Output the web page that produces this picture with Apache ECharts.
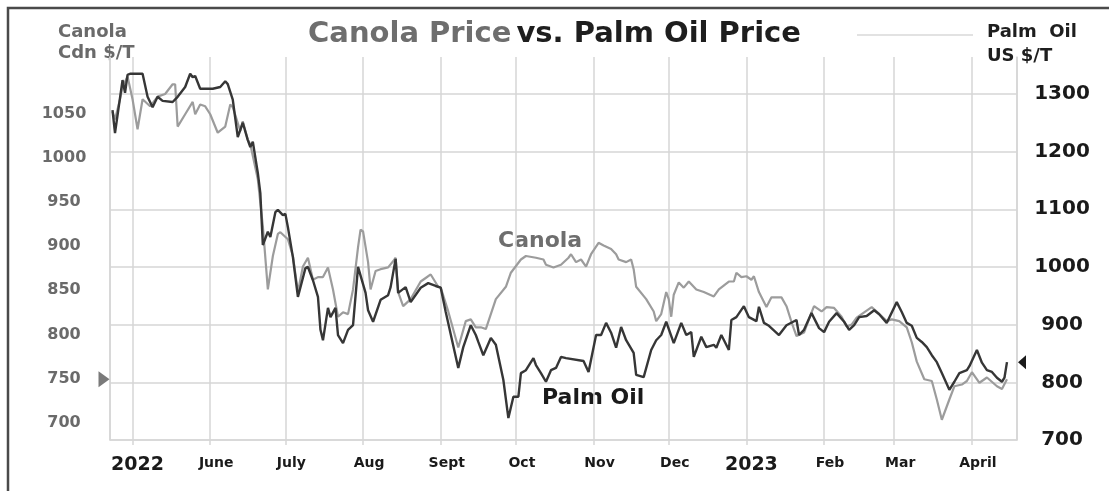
<!DOCTYPE html>
<html>
<head>
<meta charset="utf-8">
<title>Canola Price vs. Palm Oil Price</title>
<script src="https://cdn.jsdelivr.net/npm/echarts@6/dist/echarts.min.js"></script>
<style>
  html, body { margin: 0; padding: 0; background: #fff; }
  #chart { width: 1109px; height: 491px; }
</style>
</head>
<body>
<div id="chart"></div>
<script>
// days are counted from 22 Apr 2022
const startDate = new Date(2022, 3, 22);
const endDate = new Date(2023, 3, 19);
const DAY = 86400000;

// canola, Cdn $/T (left axis)
const canolaDays = [
  1, 2, 4, 5, 6, 7, 9, 11, 13, 16,
  19, 22, 25, 26, 27, 30, 33, 34, 36, 38,
  40, 43, 46, 48, 49, 52, 53, 55, 56, 59,
  61, 63, 65, 67, 68, 71, 73, 75, 77, 79,
  81, 83, 85, 87, 89, 91, 93, 95, 97, 99,
  100, 101, 103, 104, 106, 108, 111, 113, 114, 115,
  117, 120, 124, 126, 128, 131, 132, 135, 139, 142,
  144, 146, 148, 150, 154, 158, 160, 164, 166, 170,
  173, 174, 177, 180, 183, 184, 186, 188, 190, 192,
  195, 197, 200, 202, 203, 206, 208, 209, 210, 214,
  217, 218, 220, 222, 223, 224, 225, 227, 229, 231,
  234, 237, 241, 243, 247, 249, 250, 252, 254, 256,
  257, 259, 262, 264, 268, 270, 272, 274, 277, 280,
  281, 284, 286, 289, 292, 294, 296, 298, 300, 304,
  306, 310, 312, 315, 318, 320, 322, 325, 328, 330,
  332, 335, 337, 340, 342, 344, 347, 350, 354, 356,
  358
];
const canolaPrices = [
  1053, 1044, 1067, 1082, 1087, 1093, 1067, 1033, 1067, 1059,
  1070, 1073, 1084, 1084, 1036, 1050, 1064, 1050, 1061, 1059,
  1050, 1029, 1036, 1061, 1058, 1031, 1042, 1021, 1016, 976,
  923, 851, 889, 914, 916, 908, 889, 848, 877, 887,
  862, 865, 865, 876, 851, 820, 825, 823, 851, 899,
  919, 917, 882, 851, 872, 874, 876, 883, 887, 848,
  832, 840, 860, 864, 868, 854, 853, 826, 785, 815,
  817, 808, 808, 806, 840, 854, 870, 885, 889, 887,
  885, 879, 876, 879, 887, 891, 882, 885, 877, 891,
  904, 901, 897, 891, 885, 882, 885, 874, 854, 840,
  826, 815, 823, 848, 840, 820, 845, 859, 853, 860,
  851, 848, 843, 851, 860, 860, 870, 865, 866, 862,
  866, 848, 831, 842, 842, 832, 814, 798, 802, 825,
  832, 826, 831, 830, 820, 809, 811, 819, 823, 831,
  826, 815, 817, 815, 808, 791, 769, 749, 747, 726,
  703, 726, 741, 743, 747, 757, 745, 751, 741, 738,
  749
];

// palm oil, US $/T (right axis)
const palmDays = [
  1, 2, 5, 6, 7, 8, 13, 15, 17, 19,
  21, 25, 27, 30, 32, 33, 34, 36, 41, 44,
  46, 47, 49, 51, 53, 55, 56, 57, 59, 60,
  61, 63, 64, 66, 67, 69, 70, 71, 73, 75,
  78, 79, 81, 83, 84, 85, 87, 88, 90, 91,
  93, 95, 97, 99, 102, 103, 105, 108, 111, 112,
  114, 115, 118, 120, 124, 127, 130, 132, 134, 139,
  141, 144, 146, 147, 149, 152, 154, 157, 159, 161,
  163, 164, 166, 169, 170, 172, 174, 176, 178, 180,
  182, 189, 191, 194, 196, 198, 200, 202, 204, 206,
  209, 210, 213, 216, 218, 220, 222, 225, 228, 230,
  232, 233, 236, 238, 241, 242, 244, 247, 248, 250,
  253, 255, 258, 259, 261, 263, 267, 270, 274, 275,
  277, 280, 283, 285, 287, 290, 293, 295, 297, 299,
  302, 305, 307, 310, 314, 316, 318, 320, 322, 324,
  326, 328, 330, 332, 335, 337, 339, 342, 343, 346,
  348, 350, 352, 354, 356, 357, 358
];
const palmPrices = [
  1272, 1232, 1324, 1302, 1333, 1335, 1335, 1295, 1277, 1295,
  1288, 1286, 1295, 1312, 1335, 1329, 1331, 1309, 1309, 1312,
  1322, 1317, 1290, 1225, 1250, 1220, 1208, 1217, 1163, 1128,
  1038, 1061, 1052, 1095, 1099, 1090, 1092, 1069, 1017, 948,
  998, 1000, 977, 948, 891, 873, 929, 913, 929, 882,
  868, 891, 899, 1000, 955, 925, 905, 943, 951, 965,
  1014, 955, 965, 939, 964, 972, 967, 964, 922, 825,
  861, 899, 882, 870, 847, 877, 865, 804, 738, 775,
  775, 816, 821, 842, 830, 816, 801, 821, 825, 844,
  842, 837, 818, 882, 882, 903, 886, 860, 896, 873,
  851, 813, 809, 856, 873, 882, 905, 868, 903, 882,
  887, 844, 879, 861, 865, 860, 882, 856, 908, 913,
  932, 913, 906, 931, 903, 898, 882, 899, 908, 882,
  891, 920, 894, 887, 905, 920, 905, 891, 899, 913,
  915, 925, 918, 903, 939, 922, 903, 898, 877, 870,
  861, 847, 835, 816, 787, 801, 816, 821, 828, 856,
  834, 821, 818, 808, 801, 808, 835
];

// one label per month start, May 2022 .. April 2023
const xTickLabels = ['2022', 'June', 'July', 'Aug', 'Sept', 'Oct', 'Nov', 'Dec', '2023', 'Feb', 'Mar', 'April'];

function toPairs(days, values) {
  return days.map((d, i) => [startDate.getTime() + d * DAY, values[i]]);
}

const chart = echarts.init(document.getElementById('chart'));
const FONT = 'DejaVu Sans';
const gridColor = '#d6d6d6';

const option = {
  backgroundColor: '#fff',
  animation: false,
  title: {
    text: '{g|Canola Price} {k|vs. Palm Oil Price}',
    left: 'center',
    top: 20,
    padding: 0,
    textStyle: {
      rich: {
        g: { fontFamily: FONT, fontWeight: 'bold', fontSize: 29, color: '#6e6e6e' },
        k: { fontFamily: FONT, fontWeight: 'bold', fontSize: 29, color: '#1e1e1e' }
      }
    }
  },
  grid: { left: 110, right: 92, top: 57, bottom: 51 },
  xAxis: {
    type: 'time',
    min: startDate.getTime(),
    max: endDate.getTime(),
    splitNumber: 12,
    maxInterval: 31 * DAY,
    axisLine: { lineStyle: { color: gridColor, width: 1.5 } },
    axisTick: { show: true, length: 5, lineStyle: { color: gridColor, width: 1.5 } },
    splitLine: { show: true, lineStyle: { color: gridColor, width: 1.5 } },
    axisLabel: {
      margin: 12,
      hideOverlap: false,
      formatter: function (value) {
        const d = new Date(value);
        if (d.getDate() !== 1) return '';
        const i = (d.getFullYear() - 2022) * 12 + d.getMonth() - 4;
        const t = xTickLabels[i];
        if (!t) return '';
        return /^\d{4}$/.test(t) ? '{y|' + t + '}' : '{m|' + t + '}';
      },
      rich: {
        y: { fontFamily: FONT, fontWeight: 'bold', fontSize: 19, color: '#1a1a1a', padding: [4, 0, 0, 10] },
        m: { fontFamily: FONT, fontWeight: 'bold', fontSize: 14, color: '#1a1a1a', padding: [4, 0, 0, 12] }
      }
    }
  },
  yAxis: [
    {
      type: 'value',
      position: 'left',
      min: 680,
      max: 1115,
      interval: 10,
      axisLine: { show: true, lineStyle: { color: gridColor, width: 1.5 } },
      axisTick: { show: false },
      splitLine: { show: false },
      axisLabel: {
        align: 'center',
        margin: 46,
        fontFamily: FONT,
        fontWeight: 'bold',
        fontSize: 16,
        color: '#6a6a6a',
        formatter: function (v) {
          const r = Math.round(v);
          return (r % 50 === 0 && r >= 700 && r <= 1050) ? String(r) : '';
        }
      }
    },
    {
      type: 'value',
      position: 'right',
      min: 700,
      max: 1364,
      interval: 100,
      axisLine: { show: true, lineStyle: { color: gridColor, width: 1.5 } },
      axisTick: { show: false },
      splitLine: { show: true, showMaxLine: false, lineStyle: { color: gridColor, width: 1.5 } },
      axisLabel: {
        align: 'center',
        margin: 45,
        showMaxLabel: false,
        fontFamily: FONT,
        fontWeight: 'bold',
        fontSize: 20,
        color: '#1a1a1a',
        formatter: function (v) {
          return v <= 1300 ? String(Math.round(v)) : '';
        }
      }
    }
  ],
  series: [
    {
      name: 'Canola',
      type: 'line',
      yAxisIndex: 0,
      showSymbol: false,
      data: toPairs(canolaDays, canolaPrices),
      lineStyle: { color: '#9c9c9c', width: 2.2 },
      itemStyle: { color: '#9c9c9c' },
      z: 2,
      markPoint: {
        silent: true,
        symbol: 'triangle',
        symbolSize: [16, 11],
        symbolRotate: -90,
        symbolOffset: [-6, 0],
        itemStyle: { color: '#7a7a7a' },
        label: { show: false },
        data: [{ coord: [startDate.getTime(), canolaPrices[canolaPrices.length - 1]] }]
      }
    },
    {
      name: 'Palm Oil',
      type: 'line',
      yAxisIndex: 1,
      showSymbol: false,
      data: toPairs(palmDays, palmPrices),
      lineStyle: { color: '#363636', width: 2.4 },
      itemStyle: { color: '#363636' },
      z: 3,
      markPoint: {
        silent: true,
        symbol: 'triangle',
        symbolSize: [14, 8],
        symbolRotate: 90,
        symbolOffset: [5, 0],
        itemStyle: { color: '#1a1a1a' },
        label: { show: false },
        data: [{ coord: [endDate.getTime(), palmPrices[palmPrices.length - 1]] }]
      }
    }
  ],
  graphic: [
    {
      type: 'rect',
      silent: true,
      shape: { x: 8, y: 8, width: 1300, height: 700 },
      style: { fill: null, stroke: '#4a4a4a', lineWidth: 2.5 }
    },
    {
      type: 'line',
      silent: true,
      shape: { x1: 857, y1: 35, x2: 973, y2: 35 },
      style: { stroke: '#d8d8d8', lineWidth: 1.5 }
    },
    {
      type: 'text', x: 58, y: 32, silent: true,
      style: { text: 'Canola', fill: '#6a6a6a', font: 'bold 18px "DejaVu Sans"', textAlign: 'left', textVerticalAlign: 'middle', align: 'left', verticalAlign: 'middle' }
    },
    {
      type: 'text', x: 58, y: 53, silent: true,
      style: { text: 'Cdn $/T', fill: '#6a6a6a', font: 'bold 18px "DejaVu Sans"', textAlign: 'left', textVerticalAlign: 'middle', align: 'left', verticalAlign: 'middle' }
    },
    {
      type: 'text', x: 987, y: 32, silent: true,
      style: { text: 'Palm  Oil', fill: '#1e1e1e', font: 'bold 18px "DejaVu Sans"', textAlign: 'left', textVerticalAlign: 'middle', align: 'left', verticalAlign: 'middle' }
    },
    {
      type: 'text', x: 987, y: 56, silent: true,
      style: { text: 'US $/T', fill: '#1e1e1e', font: 'bold 18px "DejaVu Sans"', textAlign: 'left', textVerticalAlign: 'middle', align: 'left', verticalAlign: 'middle' }
    },
    {
      type: 'text', x: 498, y: 241, silent: true,
      style: { text: 'Canola', fill: '#6e6e6e', font: 'bold 22px "DejaVu Sans"', textAlign: 'left', textVerticalAlign: 'middle', align: 'left', verticalAlign: 'middle' }
    },
    {
      type: 'text', x: 542, y: 398, silent: true,
      style: { text: 'Palm Oil', fill: '#1a1a1a', font: 'bold 22px "DejaVu Sans"', textAlign: 'left', textVerticalAlign: 'middle', align: 'left', verticalAlign: 'middle' }
    }
  ]
};

chart.setOption(option);
</script>
</body>
</html>
